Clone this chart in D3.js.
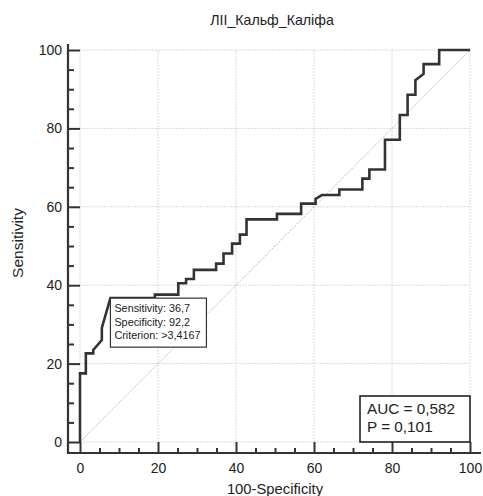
<!DOCTYPE html>
<html>
<head>
<meta charset="utf-8">
<script src="https://cdn.jsdelivr.net/npm/d3@7"></script>
<style>
  body { margin: 0; background: #fff; }
  text { font-family: "Liberation Sans", Arial, sans-serif; fill: #222; }
</style>
</head>
<body>
<div id="chart"></div>
<script>
// ROC curve vertices (100-Specificity, Sensitivity)
const specX = [0, 0, 1.5, 1.5, 3.4, 3.4, 5.6, 5.6, 7.8, 19.2, 19.2, 25.2, 25.2, 27.2, 27.2, 29.2, 29.2,
  34.9, 34.9, 36.8, 36.8, 39, 39, 41, 41, 42.7, 42.7, 50.5, 50.5, 56.7, 56.7, 60.4, 60.4, 62,
  66.5, 66.5, 72.4, 72.4, 74.2, 74.2, 78.2, 78.2, 82, 82, 84, 84, 86, 86, 88.1, 88.1, 92.1, 92.1, 100];
const sens = [0, 17.5, 17.5, 22.6, 22.6, 23.5, 26, 29.1, 36.7, 36.7, 37.6, 37.6, 40.5, 40.5, 41.6, 41.6, 43.9,
  43.9, 45.5, 45.5, 48.1, 48.1, 50.6, 50.6, 52.9, 52.9, 56.8, 56.8, 58.2, 58.2, 60.8, 60.8, 62, 63,
  63, 64.4, 64.4, 67.2, 67.2, 69.5, 69.5, 77.1, 77.1, 83.4, 83.4, 88.6, 88.6, 92.3, 93.9, 96.4, 96.4, 100, 100];

const majorTicks = [0, 20, 40, 60, 80, 100];
const minorTicks = d3.range(5, 100, 5).filter(d => d % 20 !== 0);

const criterion = { x: 7.8, y: 36.7, lines: ["Sensitivity: 36,7", "Specificity: 92,2", "Criterion: >3,4167"] };
const stats = ["AUC = 0,582", "P = 0,101"];
const title = "ЛІІ_Кальф_Каліфа";

const width = 483;
const height = 496;

const svg = d3.select("#chart")
  .append("svg")
  .attr("width", width)
  .attr("height", height);

const x = d3.scaleLinear().domain([0, 100]).range([80, 470]);
const y = d3.scaleLinear().domain([0, 100]).range([442, 50]);

const axisX = 68;   // left axis line
const axisY = 453;  // bottom axis line

// grid
svg.append("g").selectAll("line")
  .data(majorTicks)
  .enter().append("line")
  .attr("x1", d => x(d)).attr("x2", d => x(d))
  .attr("y1", y(0)).attr("y2", y(100))
  .attr("stroke", "#dadada").attr("stroke-dasharray", "2,1");
svg.append("g").selectAll("line")
  .data(majorTicks)
  .enter().append("line")
  .attr("x1", x(0)).attr("x2", x(100))
  .attr("y1", d => y(d)).attr("y2", d => y(d))
  .attr("stroke", "#dadada").attr("stroke-dasharray", "2,1");

// diagonal reference
svg.append("line")
  .attr("x1", x(0)).attr("y1", y(0))
  .attr("x2", x(100)).attr("y2", y(100))
  .attr("stroke", "#aaa").attr("stroke-width", 0.8).attr("stroke-dasharray", "1.5,1");

// y axis
svg.append("g")
  .attr("transform", `translate(${axisX},0)`)
  .call(d3.axisLeft(y).tickValues(majorTicks).tickSizeInner(-12).tickSizeOuter(0).tickPadding(6));
svg.append("g")
  .attr("transform", `translate(${axisX},0)`)
  .call(d3.axisLeft(y).tickValues(minorTicks).tickSizeInner(-6).tickSizeOuter(0).tickFormat(""));

// x axis
svg.append("g")
  .attr("transform", `translate(0,${axisY})`)
  .call(d3.axisBottom(x).tickValues(majorTicks).tickSizeInner(-11).tickSizeOuter(0).tickPadding(10));
svg.append("g")
  .attr("transform", `translate(0,${axisY})`)
  .call(d3.axisBottom(x).tickValues(minorTicks).tickSizeInner(-5).tickSizeOuter(0).tickFormat(""));

svg.selectAll(".domain").remove();
svg.selectAll(".tick line").attr("stroke", "#333").attr("stroke-width", 2);
svg.selectAll(".tick text").attr("font-size", 14).attr("fill", "#222")
  .style("font-family", "Liberation Sans, Arial, sans-serif");

// axis lines
svg.append("line")
  .attr("x1", axisX).attr("x2", axisX)
  .attr("y1", 44).attr("y2", axisY + 1)
  .attr("stroke", "#333").attr("stroke-width", 2.2);
svg.append("line")
  .attr("x1", axisX - 1).attr("x2", 481)
  .attr("y1", axisY).attr("y2", axisY)
  .attr("stroke", "#333").attr("stroke-width", 2.2);

// ROC curve
const pts = specX.map((d, i) => [d, sens[i]]);
svg.append("path")
  .datum(pts)
  .attr("fill", "none")
  .attr("stroke", "#333")
  .attr("stroke-width", 2.6)
  .attr("stroke-linejoin", "miter")
  .attr("d", d3.line().x(d => x(d[0])).y(d => y(d[1])));

// criterion box
const cb = svg.append("g").attr("transform", `translate(${x(criterion.x)},${y(criterion.y)})`);
cb.append("rect")
  .attr("width", 96).attr("height", 49)
  .attr("fill", "#fff").attr("stroke", "#333").attr("stroke-width", 1.2);
cb.selectAll("text")
  .data(criterion.lines)
  .enter().append("text")
  .attr("x", 4)
  .attr("y", (d, i) => 14 + i * 13.6)
  .attr("font-size", 10.8)
  .text(d => d);

// AUC box
const ab = svg.append("g").attr("transform", `translate(${x(100) - 110},${y(0) - 46})`);
ab.append("rect")
  .attr("width", 110).attr("height", 46)
  .attr("fill", "#fff").attr("stroke", "#222").attr("stroke-width", 1.6);
ab.selectAll("text")
  .data(stats)
  .enter().append("text")
  .attr("x", 7)
  .attr("y", (d, i) => 18 + i * 18)
  .attr("font-size", 15.3)
  .text(d => d);

// titles
svg.append("text")
  .attr("x", 272).attr("y", 25)
  .attr("text-anchor", "middle")
  .attr("font-size", 14.2)
  .text(title);

svg.append("text")
  .attr("x", 275).attr("y", 494)
  .attr("text-anchor", "middle")
  .attr("font-size", 14.8)
  .text("100-Specificity");

svg.append("text")
  .attr("transform", "translate(23,243) rotate(-90)")
  .attr("text-anchor", "middle")
  .attr("font-size", 15.5)
  .text("Sensitivity");
</script>
</body>
</html>
